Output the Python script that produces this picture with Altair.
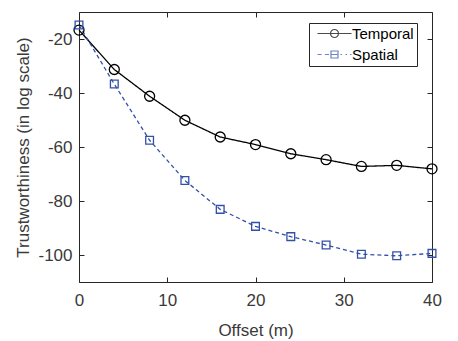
import altair as alt
import pandas as pd

offsets = [0, 4, 8, 12, 16, 20, 24, 28, 32, 36, 40]
temporal = [-16.7, -31.3, -41.2, -50.1, -56.3, -59.1, -62.5, -64.7, -67.2, -66.8, -68.1]
spatial = [-14.8, -36.7, -57.5, -72.4, -83.1, -89.4, -93.2, -96.3, -99.7, -100.3, -99.4]
series_names = ["Temporal", "Spatial"]
x_ticks = [0, 10, 20, 30, 40]
y_ticks = [-100, -80, -60, -40, -20]

rows = []
for name, vals in zip(series_names, [temporal, spatial]):
    for o, v in zip(offsets, vals):
        rows.append({"offset": o, "value": v, "series": name})
df = pd.DataFrame(rows)

INK = "#262626"
TXT = "#3a3a3a"
BLUE = "#3350a8"
FONT = "Liberation Sans"

def cscale():
    return alt.Scale(domain=series_names, range=["#000000", BLUE])

xs = alt.Scale(domain=[0, 40], nice=False, zero=False)
ys = alt.Scale(domain=[-110, -10], nice=False, zero=False)

temporal_path = "M-3.4,0H3.4 M0.8,0A0.8,0.8 0 1,1 -0.8,0A0.8,0.8 0 1,1 0.8,0"
spatial_path = ("M-3.4,0H-2.6 M-1.9,0H-1.1 M-0.7,-0.7H0.7V0.7H-0.7Z M-0.7,0H0.7 "
                "M1.2,0H1.5 M2.2,0H2.5 M3.1,0H3.4")

legend = alt.Legend(
    title=None, orient="none", legendX=230, legendY=11,
    strokeColor=INK, fillColor="white", padding=3,
    labelFont=FONT, labelFontSize=15, labelColor="#000000",
    symbolSize=100, symbolOffset=15, labelOffset=10, rowPadding=5,
    symbolStrokeWidth=1.2, symbolFillColor="transparent",
)

lab = "'' + datum.value"

lines = alt.Chart(df).mark_line(strokeWidth=1.3).encode(
    x=alt.X("offset:Q", scale=xs, title="Offset (m)",
            axis=alt.Axis(values=x_ticks, orient="bottom", offset=-5, tickSize=5, labelExpr=lab,
                          labelFlush=False, domain=False, grid=False, labelPadding=10, titlePadding=14)),
    y=alt.Y("value:Q", scale=ys, title="Trustworthiness (in log scale)",
            axis=alt.Axis(values=y_ticks, orient="left", offset=-5, tickSize=5, labelExpr=lab,
                          labelFlush=False, domain=False, grid=False, labelPadding=7, titlePadding=5)),
    color=alt.Color("series:N", scale=cscale(), legend=None),
    strokeDash=alt.StrokeDash("series:N", scale=alt.Scale(domain=series_names, range=[[1, 0], [4, 3]]), legend=None),
)

points = alt.Chart(df).mark_point(filled=False, strokeWidth=1.3, opacity=1).encode(
    x=alt.X("offset:Q", scale=xs, title=None,
            axis=alt.Axis(values=x_ticks, orient="top", offset=-5, tickSize=5,
                          domain=False, grid=False, labels=False)),
    y=alt.Y("value:Q", scale=ys, title=None,
            axis=alt.Axis(values=y_ticks, orient="right", offset=-5, tickSize=5,
                          domain=False, grid=False, labels=False)),
    color=alt.Color("series:N", scale=cscale(), legend=None),
    shape=alt.Shape("series:N", scale=alt.Scale(domain=series_names, range=["circle", "square"]), legend=None),
    size=alt.Size("series:N", scale=alt.Scale(domain=series_names, range=[100, 60]), legend=None),
)

legend_layer = alt.Chart(df).transform_filter("false").mark_point(filled=False, strokeWidth=1.2).encode(
    x=alt.X("offset:Q", scale=xs, axis=None),
    y=alt.Y("value:Q", scale=ys, axis=None),
    color=alt.Color("series:N", scale=cscale(), legend=legend),
    shape=alt.Shape("series:N", scale=alt.Scale(domain=series_names, range=[temporal_path, spatial_path]), legend=legend),
)

chart = alt.layer(lines, points, legend_layer).resolve_axis(
    x="independent", y="independent"
).resolve_scale(
    color="independent", shape="independent", size="independent", strokeDash="independent"
).properties(
    width=353, height=270,
    autosize=alt.AutoSizeParams(type="none"),
    padding={"left": 79, "top": 12, "right": 26, "bottom": 59},
    background="white",
).configure_view(stroke=INK, strokeWidth=1).configure_axis(
    labelFont=FONT, titleFont=FONT, labelFontSize=17, titleFontSize=17,
    labelColor=TXT, titleColor=TXT, tickColor=INK, tickWidth=1,
    titleFontWeight="normal",
)

chart.save("out.html", embed_options={"renderer": "svg", "actions": False})
